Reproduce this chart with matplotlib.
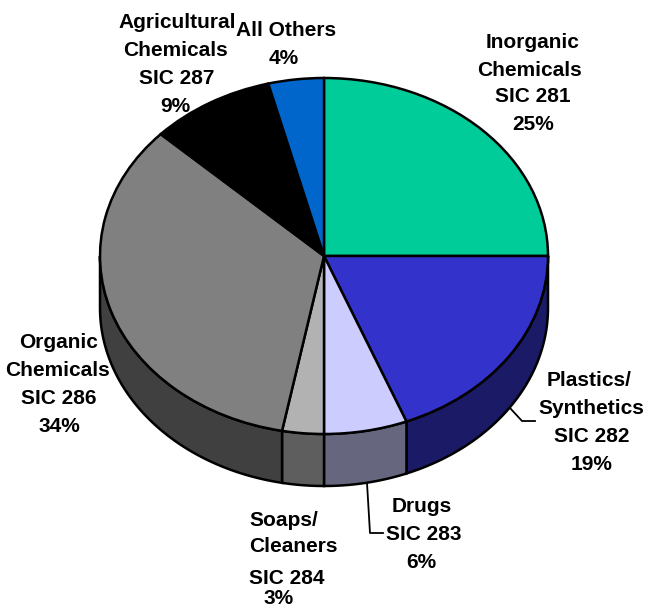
import numpy as np
import matplotlib
import matplotlib.pyplot as plt

matplotlib.use('agg')

plt.rcParams['font.family'] = ['Liberation Sans', 'DejaVu Sans']

# Shares, clockwise from 12 o'clock
segments = ['Inorganic', 'Plastics', 'Drugs', 'Soaps', 'Organic', 'Agricultural', 'Others']
values = [25, 19, 6, 3, 34, 9, 4]
top_colors = ['#00CC99', '#3333CC', '#CCCCFF', '#B2B2B2', '#808080', '#000000', '#0066CC']
side_colors = ['#006650', '#1A1A66', '#66667F', '#5E5E5E', '#404040', '#000000', '#003366']

W, H = 645, 607
CX, CY = 324, 256    # pie centre, px
RX, RY = 224, 178    # pie radii, px
DEPTH = 52 / RY      # wall height

# text lines: (string, x px, y px, align)
labels = [
    ('Inorganic', 533, 42, 'center'), ('Chemicals', 530, 70, 'center'),
    ('SIC 281', 533, 97, 'center'), ('25%', 533, 124, 'center'),
    ('Plastics/', 589, 380, 'center'), ('Synthetics', 591, 408, 'center'),
    ('SIC 282', 592, 436, 'center'), ('19%', 592, 464, 'center'),
    ('Drugs', 422, 507, 'center'), ('SIC 283', 424, 535, 'center'), ('6%', 421, 563, 'center'),
    ('Soaps/', 249, 520, 'left'), ('Cleaners', 249, 546, 'left'),
    ('SIC 284', 249, 578, 'left'), ('3%', 279, 598, 'center'),
    ('Organic', 59, 343, 'center'), ('Chemicals', 58, 370, 'center'),
    ('SIC 286', 59, 398, 'center'), ('34%', 59, 426, 'center'),
    ('Agricultural', 177, 23, 'center'), ('Chemicals', 176, 51, 'center'),
    ('SIC 287', 177, 79, 'center'), ('9%', 175, 106, 'center'),
    ('All Others', 286, 30, 'center'), ('4%', 284, 59, 'center'),
]

# leader lines, px
leaders = [
    ([510, 522, 535], [408, 421, 421]),
    ([367, 370, 383], [483, 533, 533]),
]

fig = plt.figure(figsize=(W / 100, H / 100), dpi=100, facecolor='white')
ax = fig.add_axes([0, 0, 1, 1])

# side wall, only the front half of the pie shows
edges = np.cumsum([0] + values) / sum(values)
for i, col in enumerate(side_colors):
    a0, a1 = np.clip([edges[i], edges[i + 1]], 0.25, 0.75)
    if a1 <= a0:
        continue
    t = 2 * np.pi * np.linspace(a0, a1, 60)
    x, y = np.sin(t), np.cos(t)
    ax.fill(np.r_[x, x[::-1]], np.r_[y, y[::-1] - DEPTH], color=col, ec='black', lw=1.8, zorder=1)

ax.pie(values, colors=top_colors, startangle=90, counterclock=False, radius=1,
       wedgeprops={'edgecolor': 'black', 'linewidth': 1.8, 'zorder': 2})

# stretch the circle into the ellipse
ax.set_aspect('auto')
ax.set_xlim(-CX / RX, (W - CX) / RX)
ax.set_ylim((CY - H) / RY, CY / RY)
ax.axis('off')

for xs, ys in leaders:
    ax.plot((np.array(xs) - CX) / RX, (CY - np.array(ys)) / RY, color='black', lw=1.3, zorder=3)

for s, x, y, ha in labels:
    fig.text(x / W, 1 - y / H, s, ha=ha, va='center', fontsize=15, fontweight='bold', color='black')

fig.savefig('out.png', dpi=100)
